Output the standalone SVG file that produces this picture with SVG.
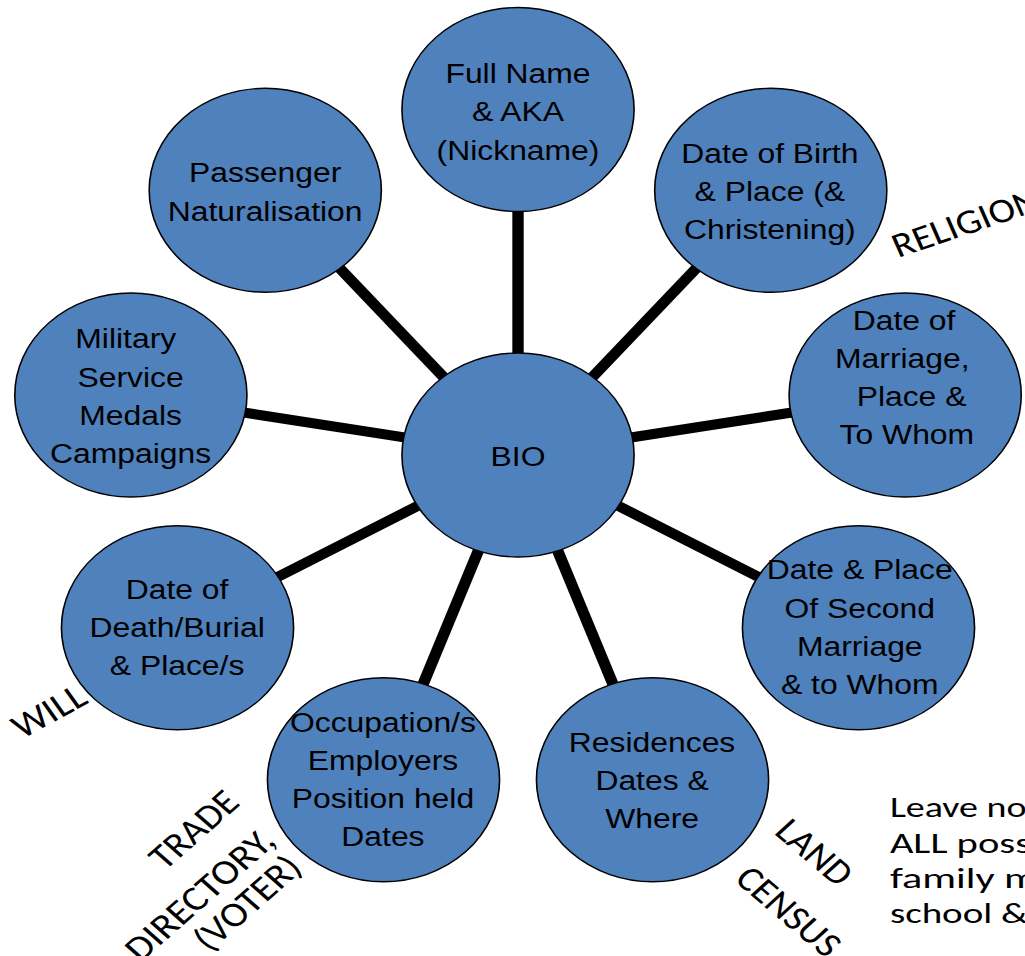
<svg xmlns="http://www.w3.org/2000/svg" width="1025" height="956" viewBox="0 0 1025 956">
<style>
.node circle{fill:#4F81BD;stroke:#000;stroke-width:1.4}
.node text{font-family:"Liberation Sans",Arial,sans-serif;font-size:28px;fill:#000;text-anchor:middle}
.conn line{stroke:#000;stroke-width:10}
.lbl{font-family:Carlito,Lato,"Open Sans",sans-serif;font-size:35px;fill:#000}
.para{font-family:Carlito,Lato,"Open Sans",sans-serif;font-size:29.5px;fill:#000}
</style>
<rect width="1025" height="956" fill="#fff"/>
<g transform="scale(1.138,1)">
<g id="connectors" class="conn">
<line x1="455.2" y1="455" x2="455.2" y2="109.5"/>
<line x1="455.2" y1="455" x2="677.3" y2="190.3"/>
<line x1="455.2" y1="455" x2="795.4" y2="395"/>
<line x1="455.2" y1="455" x2="754.4" y2="627.75"/>
<line x1="455.2" y1="455" x2="573.4" y2="779.7"/>
<line x1="455.2" y1="455" x2="337" y2="779.7"/>
<line x1="455.2" y1="455" x2="156" y2="627.75"/>
<line x1="455.2" y1="455" x2="115" y2="395"/>
<line x1="455.2" y1="455" x2="233.1" y2="190.3"/>
</g>
<g id="bio" class="node"><circle cx="455.2" cy="455" r="102"/><text x="455.2" y="466">BIO</text></g>
<g id="full-name" class="node"><circle cx="455.2" cy="109.5" r="102"/>
<text x="455.2" y="83">Full Name</text><text x="455.2" y="121.5">&amp; AKA</text><text x="455.2" y="160">(Nickname)</text></g>
<g id="birth" class="node"><circle cx="677.3" cy="190.3" r="102"/>
<text x="676.5" y="163">Date of Birth</text><text x="676.5" y="201">&amp; Place (&amp;</text><text x="676.5" y="239">Christening)</text></g>
<g id="marriage" class="node"><circle cx="795.4" cy="395" r="102"/>
<text x="794.4" y="330">Date of</text><text x="792.9" y="368">Marriage,</text><text x="801" y="406">Place &amp;</text><text x="796.9" y="444">To Whom</text></g>
<g id="second-marriage" class="node"><circle cx="754.4" cy="627.75" r="102"/>
<text x="755.5" y="579">Date &amp; Place</text><text x="755.5" y="618">Of Second</text><text x="755.5" y="656">Marriage</text><text x="755.5" y="694">&amp; to Whom</text></g>
<g id="residences" class="node"><circle cx="573.4" cy="779.7" r="102"/>
<text x="573" y="752">Residences</text><text x="573" y="790">Dates &amp;</text><text x="573" y="828">Where</text></g>
<g id="occupation" class="node"><circle cx="337" cy="779.7" r="102"/>
<text x="336.5" y="732">Occupation/s</text><text x="336.5" y="770">Employers</text><text x="336.5" y="808">Position held</text><text x="336.5" y="846">Dates</text></g>
<g id="death" class="node"><circle cx="156" cy="627.75" r="102"/>
<text x="155.6" y="599">Date of</text><text x="155.6" y="637">Death/Burial</text><text x="155.6" y="675">&amp; Place/s</text></g>
<g id="military" class="node"><circle cx="115" cy="395" r="102"/>
<text x="110.5" y="348.5">Military</text><text x="114.8" y="387">Service</text><text x="114.8" y="425">Medals</text><text x="114.8" y="463">Campaigns</text></g>
<g id="passenger" class="node"><circle cx="233.1" cy="190.3" r="102"/>
<text x="233" y="182.5">Passenger</text><text x="233" y="221">Naturalisation</text></g>
<g id="labels" class="lbl">
<text transform="translate(789.1,258) rotate(-21)" textLength="136" lengthAdjust="spacingAndGlyphs">RELIGION</text>
<text transform="translate(43.2,711.7) rotate(-32)" y="11" text-anchor="middle" textLength="70" lengthAdjust="spacingAndGlyphs">WILL</text>
<text transform="translate(170.6,830) rotate(-45)" y="11" text-anchor="middle" textLength="95" lengthAdjust="spacingAndGlyphs">TRADE</text>
<text transform="translate(175.7,895) rotate(-45)" y="11" text-anchor="middle" textLength="170" lengthAdjust="spacingAndGlyphs">DIRECTORY,</text>
<text transform="translate(217.5,903.3) rotate(-45)" y="11" text-anchor="middle" textLength="118" lengthAdjust="spacingAndGlyphs">(VOTER)</text>
<text transform="translate(715.4,852.5) rotate(44)" y="11" text-anchor="middle" textLength="79" lengthAdjust="spacingAndGlyphs">LAND</text>
<text transform="translate(692.7,911.7) rotate(44)" y="11" text-anchor="middle" textLength="113" lengthAdjust="spacingAndGlyphs">CENSUS</text>
</g>
<g id="note" class="para">
<text x="782" y="817" textLength="120" lengthAdjust="spacingAndGlyphs">Leave no</text>
<text x="782" y="853" textLength="124" lengthAdjust="spacingAndGlyphs">ALL poss</text>
<text x="782" y="888" textLength="130" lengthAdjust="spacingAndGlyphs">family m</text>
<text x="782" y="923" textLength="121" lengthAdjust="spacingAndGlyphs">school &amp;</text>
</g>
</g>
</svg>
